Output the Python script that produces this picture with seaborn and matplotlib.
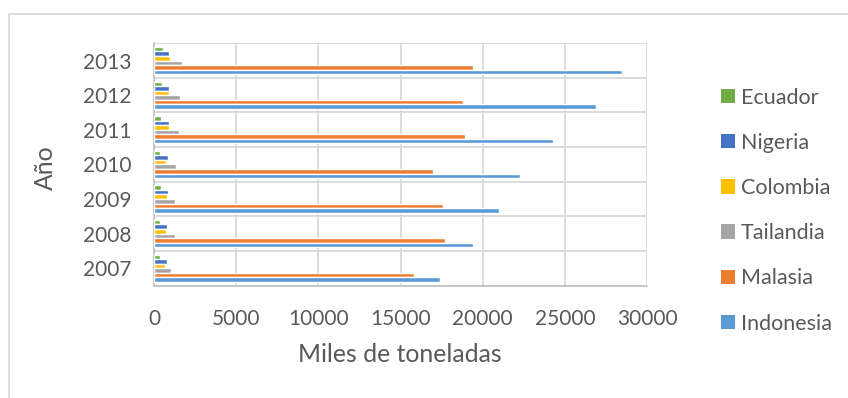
import matplotlib
matplotlib.use("Agg")
import matplotlib.pyplot as plt
from matplotlib.patches import Rectangle, Patch
from matplotlib.ticker import FixedLocator
import pandas as pd
import seaborn as sns

# Production by country and year (thousands of tonnes)
years = ["2013", "2012", "2011", "2010", "2009", "2008", "2007"]
countries = ["Ecuador", "Nigeria", "Colombia", "Tailandia", "Malasia", "Indonesia"]
ecuador = [530, 490, 430, 370, 410, 390, 370]
nigeria = [930, 930, 930, 850, 830, 810, 790]
colombia = [1000, 930, 910, 710, 770, 750, 690]
tailandia = [1690, 1580, 1500, 1340, 1280, 1280, 1040]
malasia = [19400, 18800, 18900, 17000, 17600, 17700, 15800]
indonesia = [28500, 26900, 24300, 22300, 21000, 19400, 17400]
x_ticks = [0, 5000, 10000, 15000, 20000, 25000, 30000]

palette = {
    "Ecuador": "#70AD47",
    "Nigeria": "#4472C4",
    "Colombia": "#FFC000",
    "Tailandia": "#A5A5A5",
    "Malasia": "#ED7D31",
    "Indonesia": "#5B9BD5",
}

series = [ecuador, nigeria, colombia, tailandia, malasia, indonesia]
rows = []
for country, vals in zip(countries, series):
    for yr, v in zip(years, vals):
        rows.append({"Año": yr, "País": country, "Valor": v})
df = pd.DataFrame(rows)

sns.set_theme(style="white")
plt.rcParams["font.family"] = ["Lato", "DejaVu Sans"]

text_color = "#595959"
grid_color = "#D9D9D9"
axis_color = "#BFBFBF"

W, H = 848, 398
fig = plt.figure(figsize=(W / 100, H / 100), dpi=100)
fig.patch.set_facecolor("white")

# outer chart border
fig.patches.append(Rectangle((9 / W, -0.1), 1.2, 1.1 - 14 / H,
                             transform=fig.transFigure, fill=False,
                             edgecolor="#D9D9D9", linewidth=1.2, zorder=0))

left, right = 154 / W, 647 / W
top, bottom = 1 - 43.3 / H, 1 - 285.5 / H
ax = fig.add_axes([left, bottom, right - left, top - bottom])

sns.barplot(data=df, x="Valor", y="Año", hue="País", order=years,
            hue_order=countries, palette=palette, orient="h",
            width=0.79, dodge=True, saturation=1, errorbar=None,
            legend=False, ax=ax, zorder=3)

ax.set_xlim(0, 30000)
ax.set_ylim(len(years) - 0.5, -0.5)
ax.xaxis.set_major_locator(FixedLocator(x_ticks))
ax.set_xticklabels([str(t) for t in x_ticks])

# category boundaries carry tick marks and horizontal gridlines
ax.yaxis.set_minor_locator(FixedLocator([i - 0.5 for i in range(len(years) + 1)]))
ax.tick_params(axis="y", which="major", length=0, pad=16,
               labelsize=15, labelcolor=text_color)
ax.tick_params(axis="y", which="minor", length=6, width=1.2,
               color=axis_color, direction="out")
ax.tick_params(axis="x", which="major", length=6, width=1.2,
               color=axis_color, direction="out", pad=11,
               labelsize=15, labelcolor=text_color)

ax.grid(False)
ax.set_axisbelow(True)
ax.xaxis.grid(True, which="major", color=grid_color, linewidth=1.3)
ax.yaxis.grid(True, which="minor", color=grid_color, linewidth=1.3)

for side in ["top", "right"]:
    ax.spines[side].set_visible(False)
for side in ["left", "bottom"]:
    ax.spines[side].set_color(axis_color)
    ax.spines[side].set_linewidth(1.2)

ax.set_xlabel("")
ax.set_ylabel("")
fig.text(400 / W, 1 - 355 / H, "Miles de toneladas", ha="center",
         va="center", fontsize=17.8, color=text_color)
fig.text(45 / W, 1 - 168 / H, "Año", ha="center", va="center",
         rotation=90, fontsize=17.8, color=text_color)

handles = [Patch(facecolor=palette[c], edgecolor="none") for c in countries]
leg = fig.legend(handles, countries, loc="upper left",
                 bbox_to_anchor=(712 / W, 1 - 79 / H), frameon=False,
                 fontsize=15.5, handlelength=0.65, handleheight=0.65,
                 handletextpad=0.3, labelspacing=1.17, borderaxespad=0)
for t in leg.get_texts():
    t.set_color(text_color)

fig.savefig("out.png", dpi=100, facecolor="white")
